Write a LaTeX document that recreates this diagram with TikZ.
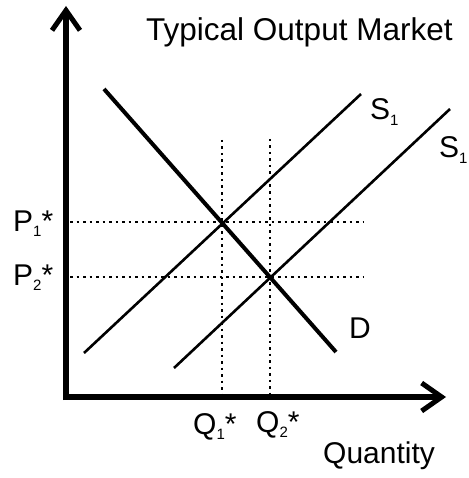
\documentclass[tikz,border=0pt]{standalone}
\usepackage{fontspec}
\setmainfont{Liberation Sans}
\usetikzlibrary{arrows.meta}
\newcommand{\lowsub}[1]{{\fontsize{15}{15}\selectfont\raisebox{-5.5pt}{#1}}}
\tikzset{
  axis/.style={line width=5.5pt, -{Straight Barb[length=20pt,width=28pt,line width=5pt]}},
  demand/.style={line width=4pt},
  supply/.style={line width=2.6pt},
  guide/.style={line width=2.2pt, dash pattern=on 2.5pt off 4pt},
  lbl/.style={anchor=base west, inner sep=0pt, font=\fontsize{30}{30}\selectfont},
}
\begin{document}
\begin{tikzpicture}[x=1pt,y=-1pt]
\useasboundingbox (0,0) rectangle (468,478);
% axes
\coordinate (O) at (66,400);
\coordinate (ytop) at (66,6);
\coordinate (xo) at (63,397);
\coordinate (xend) at (446,397);
\draw[axis] (O) -- (ytop);
\draw[axis] (xo) -- (xend);
% guides
\coordinate (p1a) at (70,222); \coordinate (p1b) at (363,222);
\coordinate (p2a) at (70,277); \coordinate (p2b) at (363,277);
\coordinate (q1a) at (222,140); \coordinate (q1b) at (222,395);
\coordinate (q2a) at (270,139); \coordinate (q2b) at (270,395);
\draw[guide] (p1a) -- (p1b);
\draw[guide] (p2a) -- (p2b);
\draw[guide] (q1a) -- (q1b);
\draw[guide] (q2a) -- (q2b);
% curves
\coordinate (d1) at (104,89); \coordinate (d2) at (336,352);
\coordinate (s1a) at (84,353); \coordinate (s1b) at (361,94);
\coordinate (s2a) at (174,368); \coordinate (s2b) at (450,109);
\draw[demand] (d1) -- (d2);
\draw[supply] (s1a) -- (s1b);
\draw[supply] (s2a) -- (s2b);
% labels
\node[lbl, font=\fontsize{31.5}{31.5}\selectfont] (title) at (146,41) {Typical Output Market};
\node[lbl] (qty) at (323,463) {Quantity};
\node[lbl] (S1) at (370,120) {S\lowsub{1}};
\node[lbl] (S2) at (439,158) {S\lowsub{1}};
\node[lbl] (D) at (349,338) {D};
\node[lbl] (P1) at (13,231) {P\lowsub{1}*};
\node[lbl] (P2) at (13,285) {P\lowsub{2}*};
\node[lbl] (Q1) at (193,434) {Q\lowsub{1}*};
\node[lbl] (Q2) at (256,432) {Q\lowsub{2}*};
\end{tikzpicture}
\end{document}
